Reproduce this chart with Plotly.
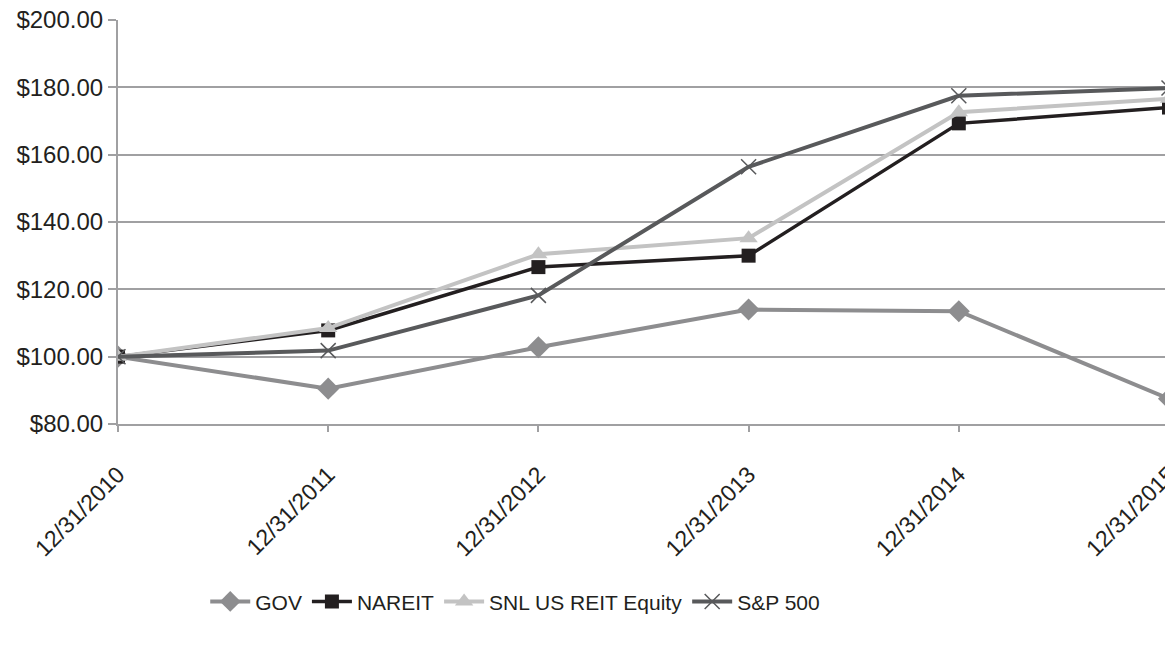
import plotly.graph_objects as go

dates = ["12/31/2010", "12/31/2011", "12/31/2012", "12/31/2013", "12/31/2014", "12/31/2015"]
gov = [100.0, 90.5, 102.8, 114.0, 113.5, 87.5]
nareit = [100.0, 107.8, 126.6, 130.0, 169.3, 174.0]
snl = [100.0, 108.5, 130.4, 135.2, 172.6, 176.6]
sp500 = [100.0, 101.8, 118.2, 156.4, 177.5, 179.8]
yticks = [80, 100, 120, 140, 160, 180, 200]

fig = go.Figure()
fig.add_trace(go.Scatter(x=dates, y=gov, name="GOV", mode="lines+markers",
                         line=dict(color="#8d8d8f", width=4),
                         marker=dict(symbol="diamond", size=17, color="#8d8d8f")))
fig.add_trace(go.Scatter(x=dates, y=nareit, name="NAREIT", mode="lines+markers",
                         line=dict(color="#231f20", width=3.5),
                         marker=dict(symbol="square", size=14, color="#231f20")))
fig.add_trace(go.Scatter(x=dates, y=snl, name="SNL US REIT Equity", mode="lines+markers",
                         line=dict(color="#c3c3c3", width=4),
                         marker=dict(symbol="triangle-up", size=16, color="#c3c3c3")))
fig.add_trace(go.Scatter(x=dates, y=sp500, name="S&P 500", mode="lines+markers",
                         line=dict(color="#58595b", width=4),
                         marker=dict(symbol="x-thin-open", size=15,
                                     line=dict(color="#58595b", width=1.5))))

fig.update_layout(
    width=1165, height=641,
    margin=dict(l=110, r=4, t=12, b=225, autoexpand=False),
    paper_bgcolor="white", plot_bgcolor="white",
    font=dict(family="Liberation Sans, Arial, sans-serif", size=22, color="#231f20"),
    showlegend=True,
    legend=dict(orientation="h", x=0.083, y=-0.44, xanchor="left", yanchor="middle",
                font=dict(size=21), itemwidth=40, tracegroupgap=0),
    xaxis=dict(type="category", range=[0, 5], showgrid=False, zeroline=False,
               ticks="outside", ticklen=6, tickcolor="#a0a0a2", tickwidth=2,
               showline=True, linecolor="#a0a0a2", linewidth=2,
               tickangle=-45, tickfont=dict(size=23), ticklabelstandoff=20,
               ticklabeloverflow="allow"),
    yaxis=dict(range=[80, 200], tickvals=yticks,
               ticktext=["$%.2f" % v for v in yticks],
               showgrid=True, gridcolor="#a0a0a2", gridwidth=2,
               zeroline=False, showline=True, linecolor="#a0a0a2", linewidth=2,
               ticks="outside", ticklen=8, tickcolor="#a0a0a2", tickwidth=2,
               tickfont=dict(size=24), ticklabeloverflow="allow"),
)

fig.write_html("out.html")
